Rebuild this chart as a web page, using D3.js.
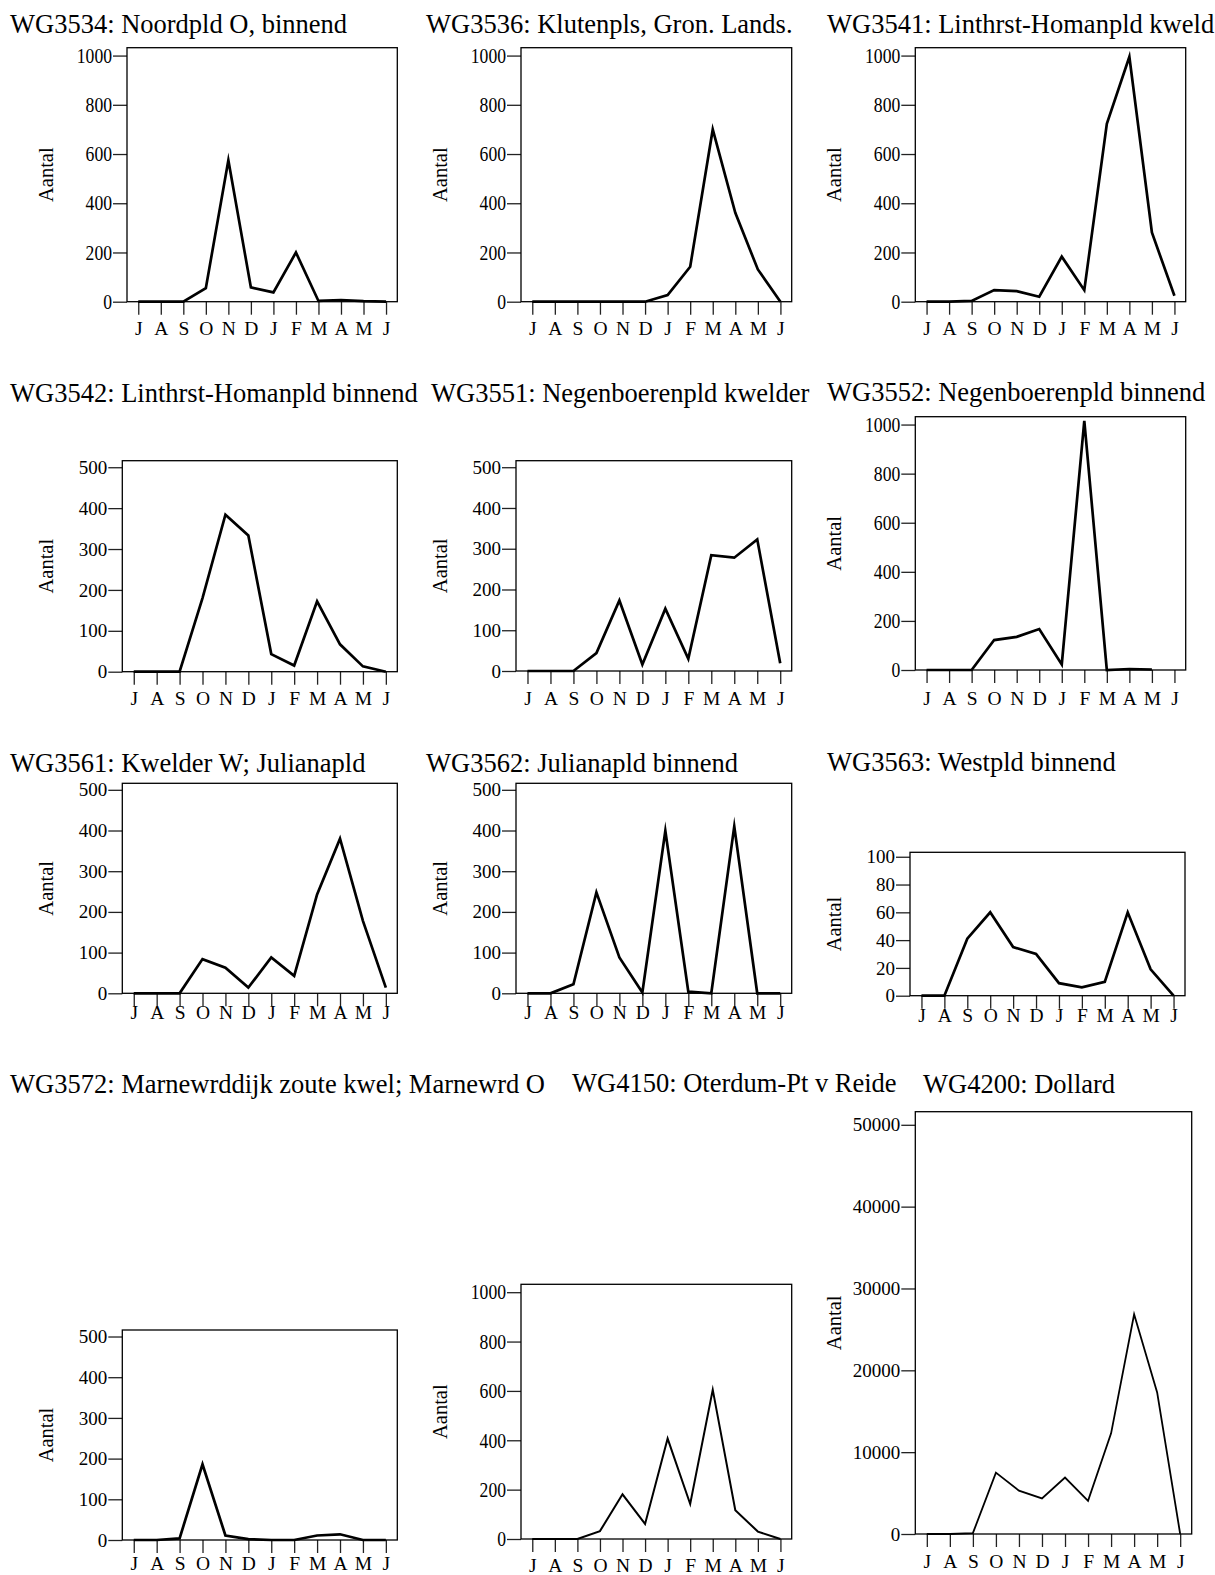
<!DOCTYPE html>
<html>
<head>
<meta charset="utf-8">
<script src="https://cdn.jsdelivr.net/npm/d3@7"></script>
<style>
  body { margin: 0; background: #fff; }
  svg { display: block; }
  text { font-family: "Liberation Serif", "Times New Roman", serif; fill: #000; }
</style>
</head>
<body>
<script>
// month initials, July .. June
const months = ["J", "A", "S", "O", "N", "D", "J", "F", "M", "A", "M", "J"];

const titles = [
  "WG3534: Noordpld O, binnend",
  "WG3536: Klutenpls, Gron. Lands.",
  "WG3541: Linthrst-Homanpld kweld",
  "WG3542: Linthrst-Homanpld binnend",
  "WG3551: Negenboerenpld kwelder",
  "WG3552: Negenboerenpld binnend",
  "WG3561: Kwelder W; Julianapld",
  "WG3562: Julianapld binnend",
  "WG3563: Westpld binnend",
  "WG3572: Marnewrddijk zoute kwel; Marnewrd O",
  "WG4150: Oterdum-Pt v Reide",
  "WG4200: Dollard"
];

// counts per month (Aantal)
const wg3534 = [0, 0, 0, 55, 575, 58, 38, 200, 3, 7, 2, 0];
const wg3536 = [0, 0, 0, 0, 0, 0, 27, 142, 700, 361, 131, 0];
const wg3541 = [0, 0, 3, 47, 43, 20, 183, 47, 723, 995, 281, 24];
const wg3542 = [0, 0, 0, 180, 384, 333, 43, 15, 172, 67, 13, 0];
const wg3551 = [0, 0, 0, 44, 173, 16, 153, 30, 284, 278, 323, 19];
const wg3552 = [0, 0, 0, 122, 135, 167, 23, 1015, 0, 4, 2, null];
const wg3561 = [0, 0, 0, 84, 63, 14, 88, 43, 243, 380, 178, 14];
const wg3562 = [0, 0, 22, 248, 88, 2, 399, 4, 0, 410, 0, 0];
const wg3563 = [0, 0, 41, 60, 35, 30, 9, 6, 10, 60, 19, 0];
const wg3572 = [0, 0, 4, 186, 11, 2, 0, 0, 11, 14, 0, 0];
const wg4150 = [0, 0, 0, 32, 181, 61, 407, 142, 605, 117, 30, 0];
const wg4200 = [0, 0, 100, 7500, 5300, 4350, 6900, 4050, 12300, 26850, 17300, 0];

const series = [wg3534, wg3536, wg3541, wg3542, wg3551, wg3552,
                wg3561, wg3562, wg3563, wg3572, wg4150, wg4200];

// y tick top value and step per panel
const tickMax  = [1000, 1000, 1000, 500, 500, 1000, 500, 500, 100, 500, 1000, 50000];
const tickStep = [200, 200, 200, 100, 100, 200, 100, 100, 20, 100, 200, 10000];

const WIDTH = 1215;
const HEIGHT = 1575;
const COLW = 394;

// panel layout: col, title pos, plot box, month label offset, line width
const layout = [
  {c: 0, tx: 10,  ty: 33.3,   l: 127,   r: 397.3,  t: 47.7,   b: 301.7, md: 33.3, lw: 2.7},
  {c: 1, tx: 426, ty: 33.3,   l: 521,   r: 791.7,  t: 47.7,   b: 301.7, md: 33.3, lw: 2.7},
  {c: 2, tx: 827, ty: 33.3,   l: 915.3, r: 1185.7, t: 47.7,   b: 301.7, md: 33.3, lw: 2.7},
  {c: 0, tx: 10,  ty: 401.5,  l: 122.3, r: 397.3,  t: 460.7,  b: 671.7, md: 33.3, lw: 2.7},
  {c: 1, tx: 431, ty: 401.5,  l: 516,   r: 791.7,  t: 460.7,  b: 671,   md: 34,   lw: 2.7},
  {c: 2, tx: 827, ty: 401,    l: 915.3, r: 1185.7, t: 416.7,  b: 670,   md: 35,   lw: 2.7},
  {c: 0, tx: 10,  ty: 771.5,  l: 122.3, r: 397.3,  t: 783.3,  b: 993.3, md: 26,   lw: 2.7},
  {c: 1, tx: 426, ty: 771.5,  l: 516,   r: 791.7,  t: 783.3,  b: 993.3, md: 26,   lw: 2.7},
  {c: 2, tx: 827, ty: 771,    l: 910,   r: 1185,   t: 852.3,  b: 995.7, md: 26,   lw: 2.7},
  {c: 0, tx: 10,  ty: 1093,   l: 122.3, r: 397.3,  t: 1330,   b: 1540,  md: 30,   lw: 2.7},
  {c: 1, tx: 572, ty: 1092,   l: 521,   r: 791.7,  t: 1284.3, b: 1539,  md: 32.7, lw: 2},
  {c: 2, tx: 923, ty: 1093,   l: 915.3, r: 1191.7, t: 1111.7, b: 1534,  md: 34.3, lw: 1.8}
];

const svg = d3.select("body")
              .append("svg")
              .attr("width", WIDTH)
              .attr("height", HEIGHT);

svg.append("rect")
   .attr("width", WIDTH)
   .attr("height", HEIGHT)
   .attr("fill", "white");

const drawPanel = (vals, i) => {
  const L = layout[i];
  const g = svg.append("g");

  g.append("text")
   .attr("x", L.tx)
   .attr("y", L.ty)
   .attr("font-size", 26.5)
   .text(titles[i]);

  const x = d3.scalePoint()
              .domain(d3.range(months.length))
              .range([L.l, L.r])
              .padding(0.5);

  const y = d3.scaleLinear()
              .domain([0, tickMax[i] * 1.032])
              .range([L.b, L.t]);

  // y axis
  const squeeze = tickMax[i] === 1000;
  const ya = g.append("g")
              .attr("transform", "translate(" + L.l + ",0)")
              .call(d3.axisLeft(y)
                      .tickValues(d3.range(0, tickMax[i] + 1, tickStep[i]))
                      .tickSize(14)
                      .tickPadding(1)
                      .tickFormat(d3.format("d")));
  ya.select(".domain").remove();
  ya.selectAll("line").attr("stroke", "#222").attr("stroke-width", 1.3);
  ya.selectAll("text")
    .attr("font-family", "Liberation Serif, serif")
    .attr("font-size", squeeze ? 21 : 19)
    .attr("fill", "#000")
    .attr("x", squeeze ? -15 / 0.84 : -15)
    .attr("transform", squeeze ? "scale(0.84,1)" : null);

  // x axis
  const xa = g.append("g")
              .attr("transform", "translate(0," + L.b + ")")
              .call(d3.axisBottom(x)
                      .tickSize(13)
                      .tickFormat(d => months[d]));
  xa.select(".domain").remove();
  xa.selectAll("line").attr("stroke", "#222").attr("stroke-width", 1.3);
  xa.selectAll("text")
    .attr("font-family", "Liberation Serif, serif")
    .attr("font-size", 19.5)
    .attr("fill", "#000")
    .attr("y", L.md)
    .attr("dy", 0);

  // plot frame
  g.append("rect")
   .attr("x", L.l)
   .attr("y", L.t)
   .attr("width", L.r - L.l)
   .attr("height", L.b - L.t)
   .attr("fill", "none")
   .attr("stroke", "#000")
   .attr("stroke-width", 1.3);

  g.append("text")
   .attr("transform", "translate(" + (L.c * COLW + 53) + "," + ((L.t + L.b) / 2) + ") rotate(-90)")
   .attr("text-anchor", "middle")
   .attr("font-size", 20.5)
   .text("Aantal");

  const line = d3.line()
                 .defined(d => d != null)
                 .x((d, j) => x(j))
                 .y(d => y(d));

  g.append("path")
   .datum(vals)
   .attr("d", line)
   .attr("fill", "none")
   .attr("stroke", "#000")
   .attr("stroke-width", L.lw)
   .attr("stroke-linejoin", "miter")
   .attr("stroke-miterlimit", 10);
}

series.forEach(drawPanel);
</script>
</body>
</html>
